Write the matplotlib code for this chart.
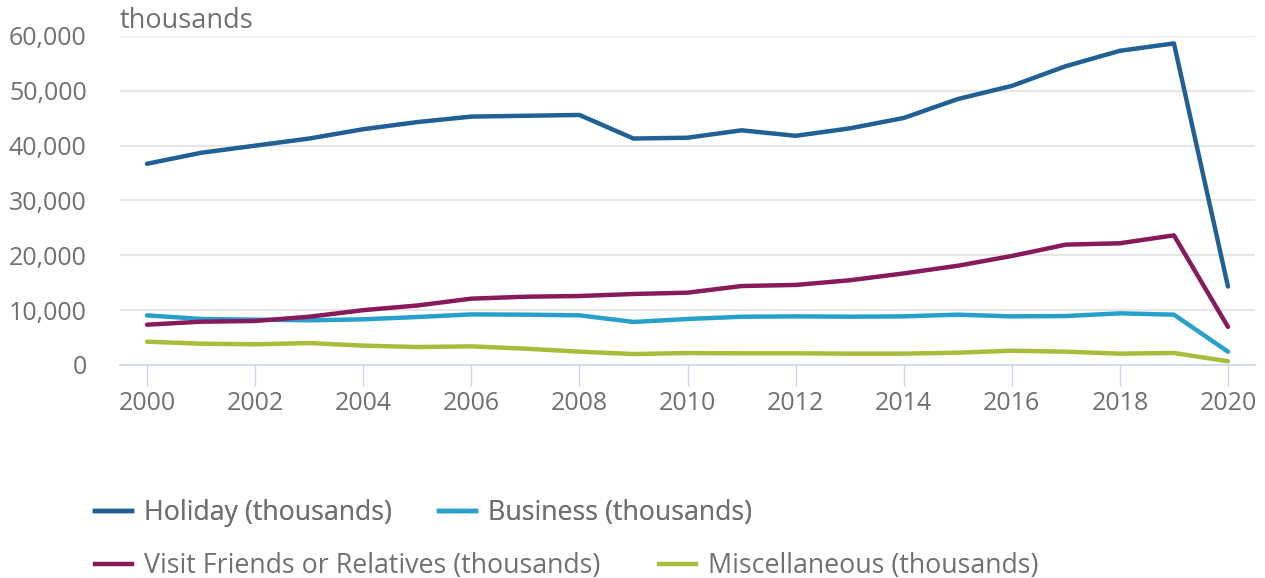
import matplotlib
matplotlib.use("Agg")
import matplotlib.pyplot as plt
from matplotlib.lines import Line2D
from matplotlib.ticker import FuncFormatter

plt.rcParams['font.family'] = ['Open Sans', 'DejaVu Sans']

years = list(range(2000, 2021))
holiday = [36700, 38700, 40000, 41300, 43000, 44300, 45300, 45450, 45600, 41300, 41450,
           42800, 41800, 43150, 45050, 48500, 50900, 54500, 57300, 58650, 14300]
business = [9050, 8400, 8270, 8150, 8330, 8750, 9230, 9180, 9060, 7850, 8390,
            8800, 8870, 8810, 8870, 9180, 8870, 8930, 9420, 9180, 2430]
vfr = [7350, 7900, 8030, 8800, 10000, 10850, 12100, 12450, 12580, 12950, 13190,
       14400, 14600, 15450, 16700, 18100, 19880, 21950, 22200, 23650, 6950]
misc = [4250, 3890, 3770, 4000, 3530, 3280, 3400, 2980, 2430, 2000, 2180,
        2130, 2130, 2070, 2070, 2250, 2600, 2430, 2070, 2190, 680]

series = [
    ("Holiday (thousands)", holiday, "#206095"),
    ("Business (thousands)", business, "#27a0cc"),
    ("Visit Friends or Relatives (thousands)", vfr, "#871a5b"),
    ("Miscellaneous (thousands)", misc, "#a8bd3a"),
]
xticks = list(range(2000, 2021, 2))
yticks = [0, 10000, 20000, 30000, 40000, 50000, 60000]

TXT = "#707070"

fig = plt.figure(figsize=(12.65, 5.78), dpi=100)
ax = fig.add_axes([120/1265, 1-365/578, (1255-120)/1265, (365-36)/578])

for name, vals, col in series:
    ax.plot(years, vals, color=col, lw=3.2, solid_capstyle='round', solid_joinstyle='round', label=name, zorder=3)

ax.set_xlim(1999.5, 2020.5)
ax.set_ylim(0, 60000)
ax.set_yticks(yticks)
ax.set_xticks(xticks)
ax.yaxis.set_major_formatter(FuncFormatter(lambda v, p: f"{int(v):,}"))
for s in ['top', 'right', 'left']:
    ax.spines[s].set_visible(False)
ax.spines['bottom'].set_color('#ccd6eb')
ax.spines['bottom'].set_linewidth(1.2)
ax.grid(axis='y', color='#e6e6e6', lw=1.5, zorder=0)
ax.set_axisbelow(True)
ax.tick_params(axis='y', length=0, pad=24, labelsize=18, labelcolor=TXT)
ax.tick_params(axis='x', length=15, width=1, color='#ccd6eb', pad=4, labelsize=18, labelcolor=TXT)

fig.text(120/1265, 1-21/578, "thousands", fontsize=19.5, color=TXT, ha='left', va='center')

handles = [Line2D([0], [0], color=c, lw=3.2) for _, _, c in series]
labels = [n for n, _, _ in series]
common = dict(loc='center left', frameon=False, fontsize=19.3, borderpad=0, borderaxespad=0,
              handlelength=1.38, handletextpad=0.45, labelcolor=TXT)
leg1 = fig.legend(handles[:2], labels[:2], ncol=2, bbox_to_anchor=(95/1265, 1-513/578),
                  columnspacing=1.75, **common)
leg2 = fig.legend(handles[2:], labels[2:], ncol=2, bbox_to_anchor=(95/1265, 1-566/578),
                  columnspacing=2.2, **common)
fig.add_artist(leg1)

fig.savefig("out.png", dpi=100, facecolor='white')
